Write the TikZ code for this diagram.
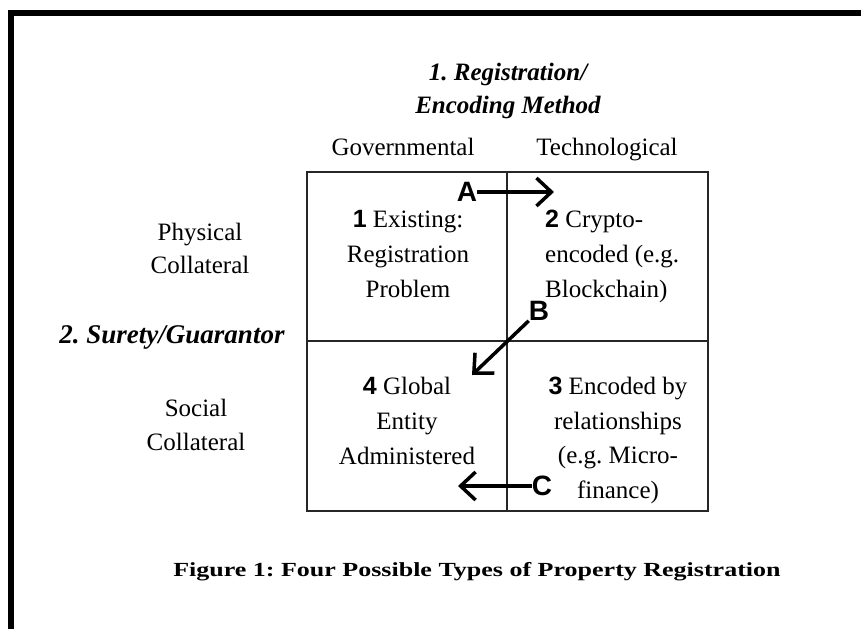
\documentclass[tikz,border=0pt]{standalone}
\usepackage{fontspec}
\setmainfont{Liberation Serif}
\newfontfamily\arialfont{Liberation Sans}
\usetikzlibrary{arrows.meta}
\AtBeginDocument{\frenchspacing}

% bold sans-serif cell number
\newcommand\cellno[1]{{\arialfont\bfseries #1}}

\begin{document}
\begin{tikzpicture}[x=1pt,y=-1pt,
  bodytext/.style={font=\fontsize{25}{35}\selectfont, inner sep=0pt, align=center},
  axistitle/.style={font=\fontsize{25}{33}\selectfont\bfseries\itshape, inner sep=0pt, align=center},
  cellline/.style={line width=2pt, draw=black!85},
  movearrow/.style={line width=3.5pt, -{Straight Barb[length=15pt,width=28pt,line width=3.5pt]}},
  moveletter/.style={font=\fontsize{28}{28}\selectfont\arialfont\bfseries, inner sep=0pt},
  captiontext/.style={font=\fontsize{20}{24}\selectfont\bfseries, inner sep=0pt}
]
\useasboundingbox (0,0) rectangle (861,629);
\fill[white] (0,0) rectangle (861,629);

% frame
\draw[line width=6pt] (11,629) -- (11,12.5) -- (861,12.5);

% axis titles
\node[axistitle, anchor=north] (regtitle) at (508,63) {1. Registration/\\Encoding Method};
\node[bodytext, anchor=base] (gov) at (403,155) {Governmental};
\node[bodytext, anchor=base] (tech) at (607,155) {Technological};
\node[bodytext, anchor=north, font=\fontsize{25}{33}\selectfont] (physical) at (200,223) {Physical\\Collateral};
\node[axistitle, anchor=base, font=\fontsize{27}{33}\selectfont\bfseries\itshape] (surety) at (172,343) {2. Surety/Guarantor};
\node[bodytext, anchor=north, font=\fontsize{25}{34}\selectfont] (social) at (196,399) {Social\\Collateral};

% quadrant grid
\coordinate (gridnw) at (307,172);
\coordinate (gridse) at (708,511);
\coordinate (midtop) at (507,172);
\coordinate (midbot) at (507,511);
\coordinate (midleft) at (307,341);
\coordinate (midright) at (708,341);
\draw[cellline] (gridnw) rectangle (gridse);
\draw[cellline] (midtop) -- (midbot);
\draw[cellline] (midleft) -- (midright);

% quadrant contents
\node[bodytext, anchor=north] (q1) at (408,210) {\cellno{1} Existing:\\Registration\\Problem};
\node[bodytext, anchor=north west, align=left] (q2) at (545,210) {\cellno{2} Crypto-\\encoded (e.g.\\Blockchain)};
\node[bodytext, anchor=north] (q4) at (407,377) {\cellno{4} Global\\Entity\\Administered};
\node[bodytext, anchor=north, font=\fontsize{25}{34.5}\selectfont] (q3) at (618,377) {\cellno{3} Encoded by\\relationships\\(e.g. Micro-\\finance)};

% transitions between quadrants
\node[moveletter] (A) at (467,192) {A};
\coordinate (Atip) at (554,192);
\draw[movearrow] (A.east) -- (Atip);

\node[moveletter] (B) at (539,311) {B};
\coordinate (Btip) at (472,375);
\draw[movearrow] (B.south west) -- (Btip);

\node[moveletter] (C) at (542,486) {C};
\coordinate (Ctip) at (458,486);
\draw[movearrow] (C.west) -- (Ctip);

% caption
\node[captiontext, anchor=base west, xscale=1.3, transform shape] (caption) at (173,576) {Figure 1: Four Possible Types of Property Registration};
\end{tikzpicture}
\end{document}
